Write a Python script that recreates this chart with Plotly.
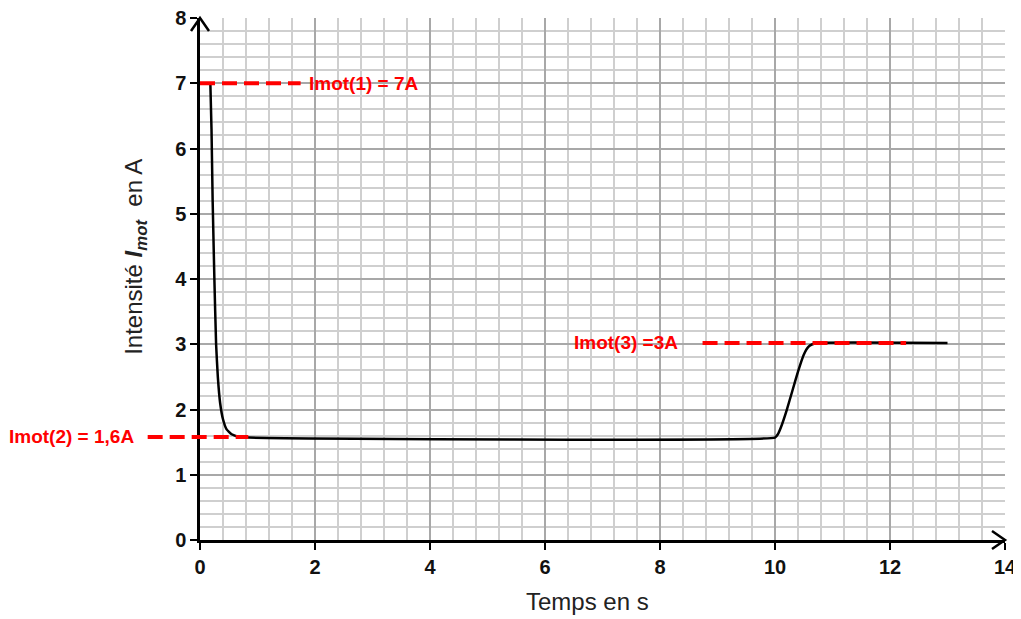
import plotly.graph_objects as go

# ---- data ----
time_s = [0.18, 0.20, 0.22, 0.25, 0.28, 0.31, 0.35, 0.40, 0.46, 0.55, 0.68, 0.85,
          10.0, 10.05, 10.1, 10.2, 10.3, 10.4, 10.5, 10.58, 10.65, 10.75, 13.0]
imot_a = [7.0, 6.3, 5.2, 4.0, 3.0, 2.5, 2.1, 1.85, 1.7, 1.62, 1.58, 1.57,
          1.57, 1.62, 1.72, 1.98, 2.28, 2.58, 2.84, 2.96, 3.0, 3.02, 3.02]

ref_labels = ["Imot(1) = 7A", "Imot(2) = 1,6A", "Imot(3) =3A"]
ref_levels = [7.0, 1.58, 3.02]
ref_x0 = [0.0, -0.91, 8.74]
ref_x1 = [1.75, 0.84, 12.28]
label_x = [1.91, -3.3, 6.52]

x_title = "Temps en s"
y_title = "Intensité <b><i>I</i></b><sub><b><i>mot</i></b></sub>  en A"

x_range = [0, 14]
y_range = [0, 8]
x_ticks = [0, 2, 4, 6, 8, 10, 12, 14]
y_ticks = [0, 1, 2, 3, 4, 5, 6, 7, 8]
x_minor = [round(i * 0.4, 2) for i in range(36)]
y_minor = [round(i * 0.2, 2) for i in range(41)]

# page has an 8px default body margin -> compensate
W, H = 1013, 611
ML, MR, MT, MB = 192, 16, 10, 79
PW, PH = W - ML - MR, H - MT - MB


def px(x):
    return (x - x_range[0]) / (x_range[1] - x_range[0])


def py(y):
    return (y - y_range[0]) / (y_range[1] - y_range[0])


fig = go.Figure()
fig.add_trace(go.Scatter(
    x=time_s, y=imot_a, mode="lines",
    line=dict(color="black", width=2.5, shape="spline", smoothing=0.4),
    showlegend=False, hoverinfo="skip"))

shapes = []
annotations = []
for lab, lv, a, b, lx in zip(ref_labels, ref_levels, ref_x0, ref_x1, label_x):
    shapes.append(dict(type="line", xref="paper", yref="paper",
                       x0=px(a), x1=px(b), y0=py(lv), y1=py(lv),
                       line=dict(color="#ff0000", width=4, dash="15px,7px"),
                       layer="above"))
    annotations.append(dict(xref="paper", yref="paper", x=px(lx), y=py(lv),
                            text=lab, showarrow=False, xanchor="left",
                            yanchor="middle", xshift=-3,
                            font=dict(family="Liberation Sans", size=19,
                                      color="#ff0000", weight="bold")))

titlefont = dict(family="Liberation Sans", size=24, color="#222222")
annotations.append(dict(xref="paper", yref="paper", x=0.481, y=-0.118,
                        text=x_title, showarrow=False, xanchor="center",
                        yanchor="middle", font=titlefont))
annotations.append(dict(xref="paper", yref="paper", x=-0.081, y=0.542,
                        text=y_title, showarrow=False, textangle=-90,
                        xanchor="center", yanchor="middle", font=titlefont))

# axis arrow heads (open chevrons)
ax_w, ax_h = 9 / PW, 13 / PH
shapes.append(dict(type="path", xref="paper", yref="paper",
                   path=f"M {-ax_w} {1 - ax_h} L 0 1 L {ax_w} {1 - ax_h}",
                   line=dict(color="black", width=2.5)))
bx, by = 13 / PW, 9 / PH
shapes.append(dict(type="path", xref="paper", yref="paper",
                   path=f"M {1 - bx} {by} L 1 0 L {1 - bx} {-by}",
                   line=dict(color="black", width=2.5)))

tickfont = dict(family="Liberation Sans", size=20, color="#111111", weight="bold")

fig.update_layout(
    width=W, height=H,
    margin=dict(l=ML, r=MR, t=MT, b=MB, autoexpand=False),
    paper_bgcolor="white", plot_bgcolor="white",
    shapes=shapes, annotations=annotations,
    xaxis=dict(range=x_range, tickvals=x_ticks, showgrid=True, automargin=False,
               gridcolor="#a8a8a8", gridwidth=1.5, ticklabeloverflow="allow",
               minor=dict(tickvals=x_minor, showgrid=True, gridcolor="#cfcfcf",
                          gridwidth=1.5, ticks=""),
               showline=True, linecolor="black", linewidth=2.5,
               ticks="outside", ticklen=7, tickwidth=2, tickcolor="black",
               tickfont=tickfont, zeroline=False),
    yaxis=dict(range=y_range, tickvals=y_ticks, showgrid=True, automargin=False,
               gridcolor="#a8a8a8", gridwidth=1.5, ticklabeloverflow="allow",
               minor=dict(tickvals=y_minor, showgrid=True, gridcolor="#cfcfcf",
                          gridwidth=1.5, ticks=""),
               showline=True, linecolor="black", linewidth=2.5,
               ticks="outside", ticklen=7, tickwidth=2, tickcolor="black",
               tickfont=tickfont, zeroline=False),
)

fig.write_html("out.html",
               post_script="document.body.style.overflow='hidden';"
                           "document.documentElement.style.overflow='hidden';")
